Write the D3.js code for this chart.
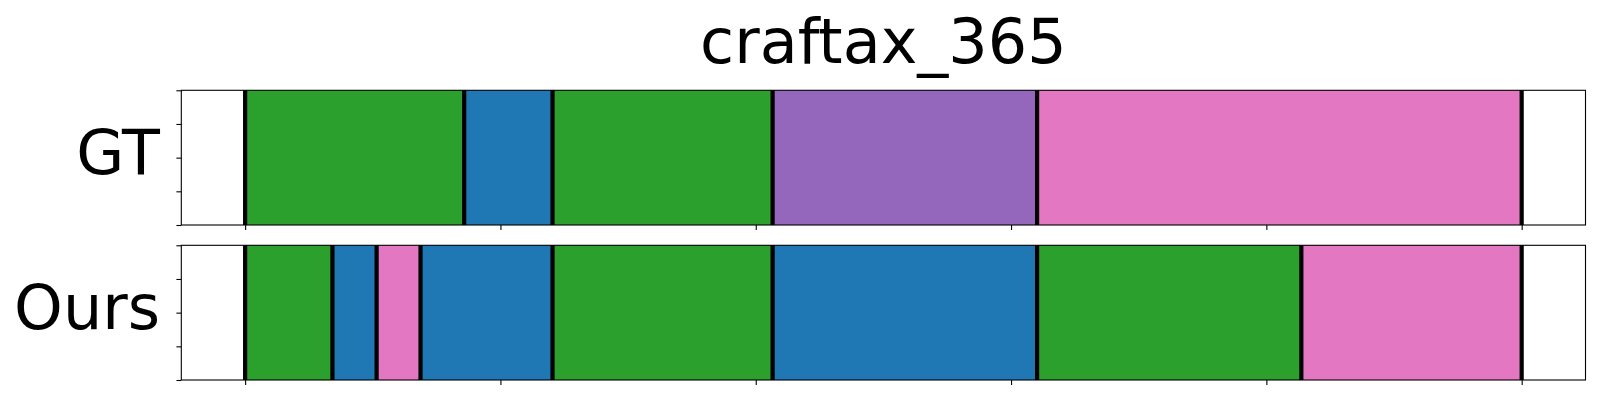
<!DOCTYPE html>
<html>
<head>
<meta charset="utf-8">
<script src="https://cdn.jsdelivr.net/npm/d3@7"></script>
<style>
  html, body { margin: 0; padding: 0; background: #fff; }
  svg { display: block; }
  text { font-family: "DejaVu Sans", sans-serif; fill: #000; }
</style>
</head>
<body>
<svg id="chart" width="1600" height="400"></svg>
<script>
// ---- data ----
const title = "craftax_365";
const rowNames = ["GT", "Ours"];
const xTicks = [0, 100, 200, 300, 400, 500];
const yTicks = [0, 0.25, 0.5, 0.75, 1];
const gtBounds = [0, 85.8, 120.4, 206.6, 310.2, 500];
const gtClasses = [2, 0, 2, 4, 6];
const oursBounds = [0, 34.2, 51.5, 68.7, 120.4, 206.6, 310.2, 413.7, 500];
const oursClasses = [2, 0, 6, 0, 2, 0, 2, 6];
const palette = ["#1f77b4", "#ff7f0e", "#2ca02c", "#d62728", "#9467bd",
                 "#8c564b", "#e377c2", "#7f7f7f", "#bcbd22", "#17becf"];

const rows = [
  { name: rowNames[0], bounds: gtBounds, classes: gtClasses, top: 90.3, bottom: 225 },
  { name: rowNames[1], bounds: oursBounds, classes: oursClasses, top: 245.3, bottom: 380 }
];

const svg = d3.select("#chart");
const left = 181.3, right = 1585.5;
const x = d3.scaleLinear().domain([-25, 525]).range([left, right]);

svg.append("text")
  .attr("x", (left + right) / 2)
  .attr("y", 63)
  .attr("text-anchor", "middle")
  .style("font-size", "62px")
  .text(title);

rows.forEach(row => {
  const y = d3.scaleLinear().domain([0, 1]).range([row.bottom, row.top]);
  const g = svg.append("g");
  const segs = row.classes.map((c, i) => ({ x0: row.bounds[i], x1: row.bounds[i + 1], c }));

  g.selectAll("rect.seg").data(segs).enter().append("rect")
    .attr("class", "seg")
    .attr("x", d => x(d.x0))
    .attr("width", d => x(d.x1) - x(d.x0))
    .attr("y", y(1))
    .attr("height", y(0) - y(1))
    .attr("fill", d => palette[d.c]);

  g.selectAll("line.bound").data(row.bounds).enter().append("line")
    .attr("class", "bound")
    .attr("x1", d => x(d)).attr("x2", d => x(d))
    .attr("y1", y(0)).attr("y2", y(1))
    .attr("stroke", "#000")
    .attr("stroke-width", 4.2);

  // axes
  const xAxis = d3.axisBottom(x).tickValues(xTicks).tickFormat("").tickSize(4.9).tickSizeOuter(0);
  const gx = g.append("g").attr("transform", `translate(0,${row.bottom})`).call(xAxis);
  const yAxis = d3.axisLeft(y).tickValues(yTicks).tickFormat("").tickSize(4.9).tickSizeOuter(0);
  const gy = g.append("g").attr("transform", `translate(${left},0)`).call(yAxis);
  [gx, gy].forEach(a => {
    a.select(".domain").remove();
    a.selectAll(".tick line").attr("stroke", "#000").attr("stroke-width", 1.1);
  });

  g.append("rect")
    .attr("x", left).attr("y", row.top)
    .attr("width", right - left).attr("height", row.bottom - row.top)
    .attr("fill", "none").attr("stroke", "#000").attr("stroke-width", 1.1);

  g.append("text")
    .attr("x", 160)
    .attr("y", (row.top + row.bottom) / 2 + 16.8)
    .attr("text-anchor", "end")
    .style("font-size", "62px")
    .text(row.name);
});
</script>
</body>
</html>
